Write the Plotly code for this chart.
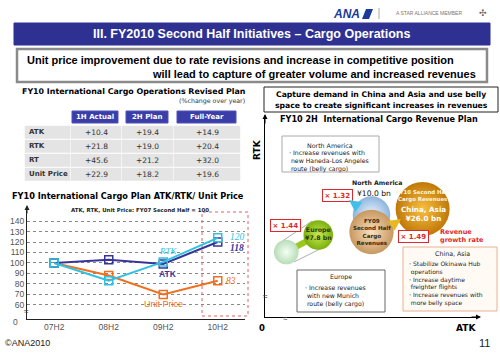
import plotly.graph_objects as go
import math

# ---------------- data ----------------
periods = ["07H2", "08H2", "09H2", "10H2"]
atk = [100, 103, 99, 120]
rtk = [100, 83, 101, 124]
unit_price = [100, 88, 70, 83]
yticks = [60, 70, 80, 90, 100, 110, 120, 130, 140]

table_cols = ["1H Actual", "2H Plan", "Full-Year"]
table_rows = ["ATK", "RTK", "RT", "Unit Price"]
h1_actual = [10.4, 21.8, 45.6, 22.9]
h2_plan = [19.4, 19.0, 21.2, 18.2]
full_year = [14.9, 20.4, 32.0, 19.6]

regions = ["North America", "China, Asia", "Europe"]
fy10_rev = [10.0, 26.0, 7.8]
growth = [1.32, 1.49, 1.44]
fy10_atk = [50, 74, 25]
fy10_rtk = [51, 54, 41]
fy09_atk = [50, 50, 10]
fy09_rtk = [42.5, 42.5, 32.5]

W, H = 500, 353
def X(p): return p / W
def Y(p): return 1 - p / H

SANS = "Liberation Sans, Arial, sans-serif"
VERD = "DejaVu Sans, Verdana, sans-serif"
SERIF = "Liberation Serif, Times New Roman, serif"

fig = go.Figure()

# ---------------- line chart ----------------
NAVY = "#35359A"
CYAN = "#30C0E0"
ORANGE = "#F07020"
for name, vals, col in [("Unit Price", unit_price, ORANGE), ("ATK", atk, NAVY), ("RTK", rtk, CYAN)]:
    fig.add_trace(go.Scatter(x=periods, y=vals, mode="lines+markers", name=name,
                             line=dict(color=col, width=2),
                             marker=dict(symbol="square-open", size=8, color=col, line=dict(width=1.5)),
                             xaxis="x", yaxis="y", showlegend=False))

# ---------------- bubble chart ----------------
k = 10.6
def sz(v): return k * math.sqrt(v)
fy09_rev = [r / g for r, g in zip(fy10_rev, growth)]

fig.add_trace(go.Scatter(x=[fy09_atk[2], fy10_atk[2]], y=[fy09_rtk[2], fy10_rtk[2]], mode="lines",
                         line=dict(color="#9BC820", width=6), xaxis="x2", yaxis="y2", showlegend=False))
fig.add_trace(go.Scatter(x=[fy09_atk[2]], y=[fy09_rtk[2]], mode="markers",
                         marker=dict(size=sz(fy09_rev[2]), color="#B8DCB8", line=dict(width=0),
                                     gradient=dict(type="radial", color="#F4FFF4")),
                         xaxis="x2", yaxis="y2", showlegend=False))
fig.add_trace(go.Scatter(x=[fy10_atk[2]], y=[fy10_rtk[2]], mode="markers",
                         marker=dict(size=sz(fy10_rev[2]), color="#7AB010", line=dict(width=0),
                                     gradient=dict(type="radial", color="#C8E850")),
                         xaxis="x2", yaxis="y2", showlegend=False))
fig.add_trace(go.Scatter(x=[fy10_atk[0]], y=[fy10_rtk[0]], mode="markers",
                         marker=dict(size=sz(fy10_rev[0]) + 4, color="#8CB4DC", line=dict(width=0),
                                     gradient=dict(type="radial", color="#F0F6FF")),
                         xaxis="x2", yaxis="y2", showlegend=False))
fig.add_trace(go.Scatter(x=[fy10_atk[1]], y=[fy10_rtk[1]], mode="markers",
                         marker=dict(size=sz(fy10_rev[1]), color="#C07808", line=dict(width=0),
                                     gradient=dict(type="radial", color="#F8C040")),
                         xaxis="x2", yaxis="y2", showlegend=False))
fig.add_trace(go.Scatter(x=[fy09_atk[1]], y=[fy09_rtk[1]], mode="markers",
                         marker=dict(size=sz(fy09_rev[1]), color="#C89860", line=dict(width=0),
                                     gradient=dict(type="radial", color="#F8E0C0")),
                         xaxis="x2", yaxis="y2", showlegend=False))

shapes = []
ann = []
def rect(x0, y0, x1, y1, line="#888", width=1, fill=None, dash=None):
    d = dict(type="rect", xref="paper", yref="paper", x0=X(x0), x1=X(x1), y0=Y(y1), y1=Y(y0),
             line=dict(color=line, width=width), layer="below")
    if dash: d["line"]["dash"] = dash
    if fill: d["fillcolor"] = fill
    shapes.append(d)

def seg(x0, y0, x1, y1, color="#999", width=0.8):
    shapes.append(dict(type="line", xref="paper", yref="paper", x0=X(x0), x1=X(x1), y0=Y(y0), y1=Y(y1),
                       line=dict(color=color, width=width), layer="below"))

def txt(x, y, t, size=8, color="#000", family=SANS, xa="center", align="center", **kw):
    d = dict(x=X(x), y=Y(y), xref="paper", yref="paper", text=t, showarrow=False,
             font=dict(size=size, color=color, family=family), xanchor=xa, yanchor="middle", align=align)
    d.update(kw)
    ann.append(d)

def arrow(x, y, ax, ay, color="#000", width=1, head=2, size=1):
    ann.append(dict(x=X(x), y=Y(y), xref="paper", yref="paper", ax=ax - x, ay=ay - y,
                    axref="pixel", ayref="pixel", showarrow=True, arrowhead=head, arrowsize=size,
                    arrowwidth=width, arrowcolor=color, text=""))

# ---------------- table (drawn from the arrays) ----------------
col_x = [(25, 70), (71, 121), (122, 173), (174, 240)]
head_x = [(72, 118), (126, 168), (177, 236)]
for (x0, x1), name in zip(head_x, table_cols):
    rect(x0, 111, x1, 123, line="#5050B8", width=1, fill="#3B3EA8")
    txt((x0 + x1) / 2, 117, "<b>%s</b>" % name, 7, "white", VERD)
row_top = 126
row_h = 14
for i, r in enumerate(table_rows):
    y0 = row_top + i * row_h
    for (x0, x1) in col_x:
        rect(x0, y0, x1, y0 + row_h - 1.5, line="#E4E4E4", width=0.5, fill="#E4E4E4")
    yc = y0 + (row_h - 1.5) / 2
    txt(27, yc, "<b>%s</b>" % r, 7, "#333", VERD, xa="left")
    for (x0, x1), vals in zip(col_x[1:], [h1_actual, h2_plan, full_year]):
        txt((x0 + x1) / 2, yc, "+%.1f" % vals[i], 7.5, "#333", VERD)

# header
rect(14, 23, 490, 45, line="#2E3192", fill="#2E3192")
txt(252, 34, "<b>III. FY2010 Second Half Initiatives – Cargo Operations</b>", 12.5, "white")
txt(346, 14, "<b><i>ANA</i></b>", 12, "#1A3A9A", xa="center")
shapes.append(dict(type="path", xref="paper", yref="paper",
                   path="M %f %f L %f %f L %f %f L %f %f Z" % (X(362), Y(19), X(366), Y(9), X(373), Y(9), X(369), Y(19)),
                   fillcolor="#1A3A9A", line=dict(width=0)))
shapes.append(dict(type="line", xref="paper", yref="paper", x0=X(379), x1=X(379), y0=Y(8), y1=Y(19),
                   line=dict(color="#AAA", width=1)))
txt(429, 13, "A STAR ALLIANCE MEMBER", 5, "#777")
txt(483, 13, "✣", 9, "#666")

# top message box
rect(17, 49, 487, 82, line="#8A8A8A", width=2.5, fill="white")
txt(25, 60, "<b>Unit price improvement due to rate revisions and increase in competitive position</b>", 11, "#000", xa="left")
txt(478, 74, "<b>will lead to capture of greater volume and increased revenues</b>", 11, "#000", xa="right")

# table titles
txt(20, 92, "<b>FY10 International Cargo Operations Revised Plan</b>", 7.9, "#000", VERD, xa="left")
txt(247, 101, "(%change over year)", 6.3, "#333", VERD, xa="right")

# line chart titles and labels
txt(128, 196, "<b>FY10 International Cargo Plan ATK/RTK/ Unit Price</b>", 8.2, "#000", VERD)
txt(140, 210, "<b>ATK, RTK, Unit Price: FY07 Second Half = 100</b>", 5.4, "#222", VERD)
rect(202, 212, 248, 316, line="#E06060", width=1, dash="dot")
txt(168, 251, "<i>RTK</i>", 9, CYAN, SERIF)
txt(168, 274, "<b>ATK</b>", 8.5, NAVY)
txt(163, 304, "Unit Price", 9, ORANGE)
txt(237, 237, "<i>120</i>", 9.5, CYAN, SERIF)
txt(237, 248, "<b><i>118</i></b>", 9.5, NAVY, SERIF)
txt(231, 281, "<i>83</i>", 9.5, ORANGE, SERIF)
txt(20, 322, "0", 8.5, "#555", xa="right")
txt(26, 311, "≈", 8, "#444")
arrow(27, 205, 27, 215, "#222", 1, 2, 1)

# footer
txt(3, 343, "©ANA2010", 9, "#222", xa="left")
txt(484, 343, "11", 11, "#222")

# right message box
rect(264, 87, 498, 112, line="#222", width=1, fill="white")
txt(381, 94, "<b>Capture demand in China and Asia and use belly</b>", 7.7, "#000", VERD)
txt(381, 105, "<b>space to create significant increases in revenues</b>", 7.7, "#000", VERD)
txt(379, 119, "<b>FY10 2H  International Cargo Revenue Plan</b>", 8.1, "#000", VERD)
txt(257, 150, "<b>RTK</b>", 9, "#000", VERD, textangle=-90)
txt(262, 328, "<b>0</b>", 8.5, "#000", VERD)
txt(466, 328, "<b>ATK</b>", 9, "#000", VERD)
arrow(265, 114, 265, 125, "#000", 1, 2, 1)
arrow(481, 317, 470, 317, "#000", 1, 2, 1)
txt(265, 296, "≈", 8, "#444")
txt(285, 318, "≈", 8, "#444")

# North America box
rect(282, 136, 379, 172, line="#AAAAAA", width=1, fill="white")
txt(330, 145, "North America", 6.3, "#222", VERD)
txt(285, 161, "・Increase revenues with<br>  new Haneda-Los Angeles<br>  route (belly cargo)", 6.2, "#222", VERD, xa="left", align="left")
# Europe box
rect(297, 270, 385, 312, line="#666", width=1, fill="white")
txt(341, 277, "Europe", 6.3, "#222", VERD)
txt(301, 296, "・Increase revenues<br>  with new Munich<br>  route (belly cargo)", 6.2, "#222", VERD, xa="left", align="left")
# China box
rect(403, 247, 497, 311, line="#E8B090", width=1, fill="#FFFAF4")
txt(452, 253, "China, Asia", 6.3, "#222", VERD)
txt(405, 283, "・Stabilize Okinawa Hub<br>  operations<br>・Increase daytime<br>  freighter flights<br>・Increase revenues with<br>  more belly space",
    6.0, "#222", VERD, xa="left", align="left")

# Europe tangent lines
seg(281, 242, 312, 221)
seg(294, 262, 326, 246)

# bubble labels
txt(377, 182, "<b>North America</b>", 6.2, "#222", VERD)
txt(374, 193, "¥10.0 bn", 7.6, "#111", VERD)
txt(337, 195, "<b>× 1.32</b>", 7, "#E02828", VERD, bordercolor="#E02828", borderwidth=1, bgcolor="white", borderpad=1.5)
txt(285, 225, "<b>× 1.44</b>", 7, "#E02828", VERD, bordercolor="#E02828", borderwidth=1, bgcolor="white", borderpad=1.5)
txt(413, 236, "<b>× 1.49</b>", 7, "#E02828", VERD, bordercolor="#E02828", borderwidth=1, bgcolor="white", borderpad=1.5)
txt(438, 236, "<b>Revenue<br>growth rate</b>", 6.5, "#E02828", VERD, xa="left", align="left")
txt(423, 196, "<b>FY10 Second Half<br>Cargo Revenues</b>", 5.4, "#FFF6E0", VERD)
txt(423, 214, "<b>China, Asia<br>¥26.0 bn</b>", 7.2, "#FFFFFF", VERD)
txt(372, 232, "<b>FY09<br>Second Half<br>Cargo<br>Revenues</b>", 5.6, "#3A2A10", VERD)
txt(318, 233, "<b>Europe<br>¥7.8 bn</b>", 6.3, "#2A3A00", VERD)
arrow(349, 200, 360, 208, "#40C0E8", 3, 2, 0.8)
arrow(401, 219, 391, 226, "#E8B820", 3, 2, 0.8)

fig.update_layout(
    width=W, height=H, margin=dict(l=0, r=0, t=0, b=0),
    paper_bgcolor="white", plot_bgcolor="rgba(0,0,0,0)",
    xaxis=dict(domain=[X(27), X(245)], range=[-0.5, 3.5], type="category",
               showline=True, linecolor="#222", linewidth=1, showgrid=False, zeroline=False,
               ticks="", tickfont=dict(family=SANS, size=8.5, color="#555"), anchor="y"),
    yaxis=dict(domain=[Y(319), Y(208)], range=[46.5, 152.5],
               tickvals=yticks, showline=True, linecolor="#222", linewidth=1,
               showgrid=True, gridcolor="#888", griddash="dot", gridwidth=1, zeroline=False,
               tickfont=dict(family=SANS, size=8.5, color="#555"), anchor="x"),
    xaxis2=dict(domain=[X(265), X(478)], range=[0, 100], showline=True, linecolor="#000",
                showgrid=False, zeroline=False, showticklabels=False, ticks="", anchor="y2"),
    yaxis2=dict(domain=[Y(317), Y(117)], range=[0, 100], showline=True, linecolor="#000",
                showgrid=False, zeroline=False, showticklabels=False, ticks="", anchor="x2"),
    shapes=shapes, annotations=ann,
)
fig.write_html("out.html")
